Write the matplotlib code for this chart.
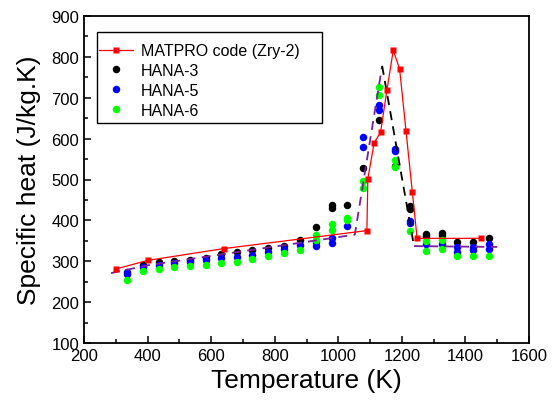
import matplotlib
matplotlib.use("Agg")
import matplotlib.pyplot as plt
from matplotlib.ticker import MultipleLocator
from matplotlib.patches import Rectangle

plt.rcParams['font.family'] = ['Liberation Sans', 'DejaVu Sans']

# MATPRO code (Zry-2)
matpro_T = [300, 400, 640, 1090, 1093, 1113, 1133, 1153, 1173, 1193, 1213, 1233, 1248, 1450]
matpro_cp = [281, 302, 331, 375, 502, 590, 615, 719, 816, 770, 619, 469, 356, 356]

# HANA-3
h3_T = [385, 435, 484, 533, 583, 632, 681, 730, 780, 830, 879, 930, 980, 980, 1028, 1078, 1128, 1178,
        1225, 1225, 1275, 1275, 1325, 1325, 1375, 1425, 1474]
h3_cp = [292, 298, 300, 304, 308, 317, 322, 328, 332, 338, 352, 385, 438, 430, 437, 528, 646, 534,
         435, 428, 367, 361, 369, 363, 348, 348, 357]

# HANA-5
h5_T = [335, 335, 385, 435, 484, 533, 583, 632, 681, 730, 780, 830, 879, 930, 930, 980, 980, 1028,
        1078, 1078, 1128, 1128, 1178, 1178, 1225, 1225, 1275, 1325, 1375, 1375, 1425, 1425, 1474, 1474]
h5_cp = [273, 268, 286, 292, 295, 299, 302, 308, 310, 316, 322, 330, 339, 347, 337, 357, 345, 386,
         605, 579, 683, 671, 575, 569, 399, 394, 342, 343, 334, 322, 334, 328, 342, 330]

# HANA-6
h6_T = [335, 385, 435, 484, 533, 583, 632, 681, 730, 780, 830, 879, 930, 930, 980, 980, 1028, 1028,
        1078, 1078, 1128, 1128, 1178, 1178, 1225, 1275, 1275, 1325, 1325, 1375, 1425, 1474]
h6_cp = [255, 276, 282, 286, 289, 291, 296, 299, 306, 312, 320, 328, 365, 353, 392, 377, 406, 400,
         497, 479, 726, 707, 548, 530, 374, 350, 326, 351, 329, 312, 314, 312]

# dashed guide lines
fitA_T = [285, 400, 1052, 1138]
fitA_cp = [271, 290, 365, 778]
fitB_T = [1138, 1238]
fitB_cp = [778, 338]
fitC_T = [1238, 1500]
fitC_cp = [337, 335]

W, H = 555, 406
fig = plt.figure(figsize=(W / 100, H / 100), dpi=100)
ax = fig.add_axes([84 / W, 1 - 344 / H, 445 / W, 327 / H])

ms = 5.4
ax.plot(h3_T, h3_cp, 'o', color='black', ms=ms, mec='none', label='HANA-3', zorder=3)
ax.plot(h5_T, h5_cp, 'o', color='#0000ff', ms=ms, mec='none', label='HANA-5', zorder=3)
ax.plot(h6_T, h6_cp, 'o', color='#00ff00', ms=ms, mec='none', label='HANA-6', zorder=3)

ax.plot(fitA_T, fitA_cp, color='#7a1f9a', lw=1.3, dashes=(5, 3.5), zorder=4)
ax.plot(fitB_T, fitB_cp, color='black', lw=1.3, dashes=(5, 3.5), zorder=4)
ax.plot(fitC_T, fitC_cp, color='#7a1f9a', lw=1.3, dashes=(5, 3.5), zorder=4)

ax.plot(matpro_T, matpro_cp, '-s', color='#ff0000', lw=0.9, ms=4.0, mec='none',
        label='MATPRO code (Zry-2)', zorder=5)

ax.set_xlim(200, 1600)
ax.set_ylim(100, 900)
ax.xaxis.set_major_locator(MultipleLocator(200))
ax.xaxis.set_minor_locator(MultipleLocator(100))
ax.yaxis.set_major_locator(MultipleLocator(100))
ax.yaxis.set_minor_locator(MultipleLocator(50))
ax.tick_params(which='both', direction='in', top=False, right=False, labelsize=12, width=1.1)
ax.tick_params(which='major', length=5)
ax.tick_params(which='minor', length=3)
for s in ax.spines.values():
    s.set_linewidth(1.3)

ax.set_xlabel('Temperature (K)', fontsize=19, labelpad=4)
ax.set_ylabel('Specific heat (J/kg.K)', fontsize=19, labelpad=7.5)

handles, labels = ax.get_legend_handles_labels()
order = [3, 0, 1, 2]
leg = ax.legend([handles[i] for i in order], [labels[i] for i in order],
                loc='upper left', bbox_to_anchor=(96 / W, 1 - 41 / H),
                bbox_transform=fig.transFigure, fontsize=11.5,
                frameon=False, handlelength=2.1, handletextpad=0.5,
                labelspacing=0.3, borderpad=0.0, borderaxespad=0.2)

# legend frame
fig.patches.append(Rectangle((97 / W, 1 - 124 / H), 225 / W, 91 / H,
                             transform=fig.transFigure, fill=False,
                             edgecolor='black', linewidth=1.0, zorder=10))

fig.savefig('out.png', dpi=100)
